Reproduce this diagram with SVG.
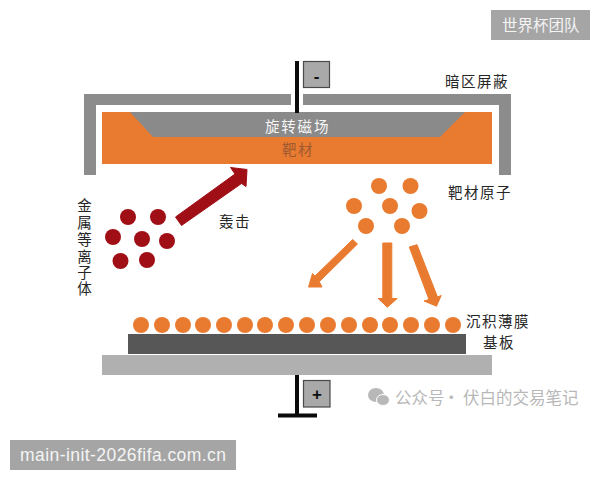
<svg xmlns="http://www.w3.org/2000/svg" width="600" height="480" viewBox="0 0 600 480">
  <style>
    text { font-family: "Noto Sans CJK SC", "Liberation Sans", sans-serif; }
    .label { font-size: 14.5px; fill: #262626; letter-spacing: 1.5px; }
    .stack { font-size: 14.5px; fill: #262626; text-anchor: middle; }
    .shield { fill: #8c8c8c; }
    .ion { fill: #a00f16; }
    .atom { fill: #e97b30; }
    .arrow-ion { fill: #a00f16; stroke: #a00f16; stroke-width: 1; }
    .arrow-atom { fill: #e97b30; stroke: #e97b30; stroke-width: 1; }
    .post { stroke: #0a0a0a; stroke-width: 4; fill: none; }
    .terminal { fill: #a9a9a9; stroke: #4a4a4a; stroke-width: 1.2; }
    .sign { font-size: 17px; font-weight: 700; fill: #111; text-anchor: middle; font-family: "Liberation Sans", sans-serif; }
    .badge { fill: #a5a5a5; }
    .badge-text { fill: #f4f4f4; font-size: 15.5px; }
    .mark-text { fill: #b8b8b8; font-size: 16.5px; }
  </style>
  <rect width="600" height="480" fill="#ffffff"/>

  <g id="dark-space-shield">
    <path class="shield" d="M84 94H291V105H96V175H84Z"/>
    <path class="shield" d="M303 94H511V175H499V105H303Z"/>
    <text class="label" x="445" y="87">暗区屏蔽</text>
  </g>

  <g id="target">
    <rect x="102" y="112" width="390" height="52" fill="#e97b30"/>
    <text x="282" y="155" font-size="14.500" fill="#a05a30" letter-spacing="1.500">靶材</text>
  </g>

  <g id="rotating-magnet">
    <path d="M130 112H465L440 137H153Z" fill="#8a8a8a"/>
    <text x="265" y="132" font-size="14.500" fill="#f6f6f6" letter-spacing="1.800">旋转磁场</text>
  </g>

  <g id="cathode-terminal">
    <path class="post" d="M297 61V113"/>
    <rect class="terminal" x="303.500" y="61.500" width="26" height="26"/>
    <text class="sign" x="316.500" y="82">-</text>
  </g>

  <g id="plasma">
    <circle class="ion" cx="128" cy="217" r="8"/>
    <circle class="ion" cx="158" cy="217" r="8"/>
    <circle class="ion" cx="113" cy="237" r="8"/>
    <circle class="ion" cx="142" cy="239" r="8"/>
    <circle class="ion" cx="167" cy="241" r="8"/>
    <circle class="ion" cx="120.500" cy="261" r="8"/>
    <circle class="ion" cx="147" cy="260" r="8"/>
    <text class="stack" x="84.500" y="211">金</text>
    <text class="stack" x="84.500" y="228">属</text>
    <text class="stack" x="84.500" y="245">等</text>
    <text class="stack" x="84.500" y="262">离</text>
    <text class="stack" x="84.500" y="278">子</text>
    <text class="stack" x="84.500" y="294">体</text>
    <text class="label" x="219" y="227">轰击</text>
  </g>

  <g id="sputtered-atoms">
    <circle class="atom" cx="379" cy="186" r="8"/>
    <circle class="atom" cx="410.500" cy="186" r="8"/>
    <circle class="atom" cx="354" cy="206" r="8"/>
    <circle class="atom" cx="390" cy="206" r="8"/>
    <circle class="atom" cx="419.500" cy="211" r="8"/>
    <circle class="atom" cx="366" cy="226" r="8"/>
    <circle class="atom" cx="402" cy="226" r="8"/>
    <text class="label" x="448" y="198">靶材原子</text>
  </g>

  <g id="connectors">
    <path class="arrow-ion" d="M175.500 217L235 174L230.500 167.500L247 169.500L246 186.500L241.500 183.500L181.500 225.500Z"/>
    <path class="arrow-atom" d="M352.700 239.500L357.500 244L319.300 281.700L322 287H308.500L312.500 273.500L315 276Z"/>
    <path class="arrow-atom" d="M382.800 243H391.800V298.500H397.200L387.300 307.200L378.200 298.500H382.800Z"/>
    <path class="arrow-atom" d="M409.300 247L417 244.700L437.500 297L441.200 295.500L436.500 306.200L424 301L429 299.500Z"/>
  </g>

  <g id="deposited-film">
    <circle class="atom" cx="141" cy="325" r="8"/>
    <circle class="atom" cx="162" cy="325" r="8"/>
    <circle class="atom" cx="183" cy="325" r="8"/>
    <circle class="atom" cx="203" cy="325" r="8"/>
    <circle class="atom" cx="224" cy="325" r="8"/>
    <circle class="atom" cx="245" cy="325" r="8"/>
    <circle class="atom" cx="265" cy="325" r="8"/>
    <circle class="atom" cx="286" cy="325" r="8"/>
    <circle class="atom" cx="307" cy="325" r="8"/>
    <circle class="atom" cx="328" cy="325" r="8"/>
    <circle class="atom" cx="349" cy="325" r="8"/>
    <circle class="atom" cx="370" cy="325" r="8"/>
    <circle class="atom" cx="390" cy="325" r="8"/>
    <circle class="atom" cx="411" cy="325" r="8"/>
    <circle class="atom" cx="432" cy="325" r="8"/>
    <circle class="atom" cx="453" cy="325" r="8"/>
    <text class="label" x="466" y="327">沉积薄膜</text>
  </g>

  <g id="substrate">
    <rect x="128" y="334" width="338" height="20" fill="#575757"/>
    <text class="label" x="483" y="348">基板</text>
  </g>

  <g id="holder">
    <rect x="102" y="355" width="390" height="20" fill="#b0b0b0"/>
  </g>

  <g id="anode-terminal">
    <path class="post" d="M297 375V415.500M278 415.500H317"/>
    <rect class="terminal" x="303.500" y="380.500" width="26.500" height="26.500"/>
    <text class="sign" x="317" y="400">+</text>
  </g>

  <g id="account-mark">
    <ellipse cx="376" cy="395" rx="8" ry="7" fill="#b8b8b8"/>
    <ellipse cx="383" cy="400" rx="6.500" ry="5.500" fill="#b8b8b8" stroke="#ffffff"/>
    <text class="mark-text" x="395" y="404">公众号</text>
    <text class="mark-text" x="443" y="404">·</text>
    <text class="mark-text" x="463" y="404">伏白的交易笔记</text>
  </g>

  <g id="corner-badge">
    <rect class="badge" x="491" y="10" width="99" height="30"/>
    <text class="badge-text" x="502" y="30.500">世界杯团队</text>
  </g>

  <g id="address-badge">
    <rect class="badge" x="10" y="440" width="226" height="30"/>
    <text x="20" y="461" fill="#f4f4f4" font-size="17.500" textLength="206" lengthAdjust="spacing" style="font-family:'Liberation Sans',sans-serif">main-init-2026fifa.com.cn</text>
  </g>
</svg>
